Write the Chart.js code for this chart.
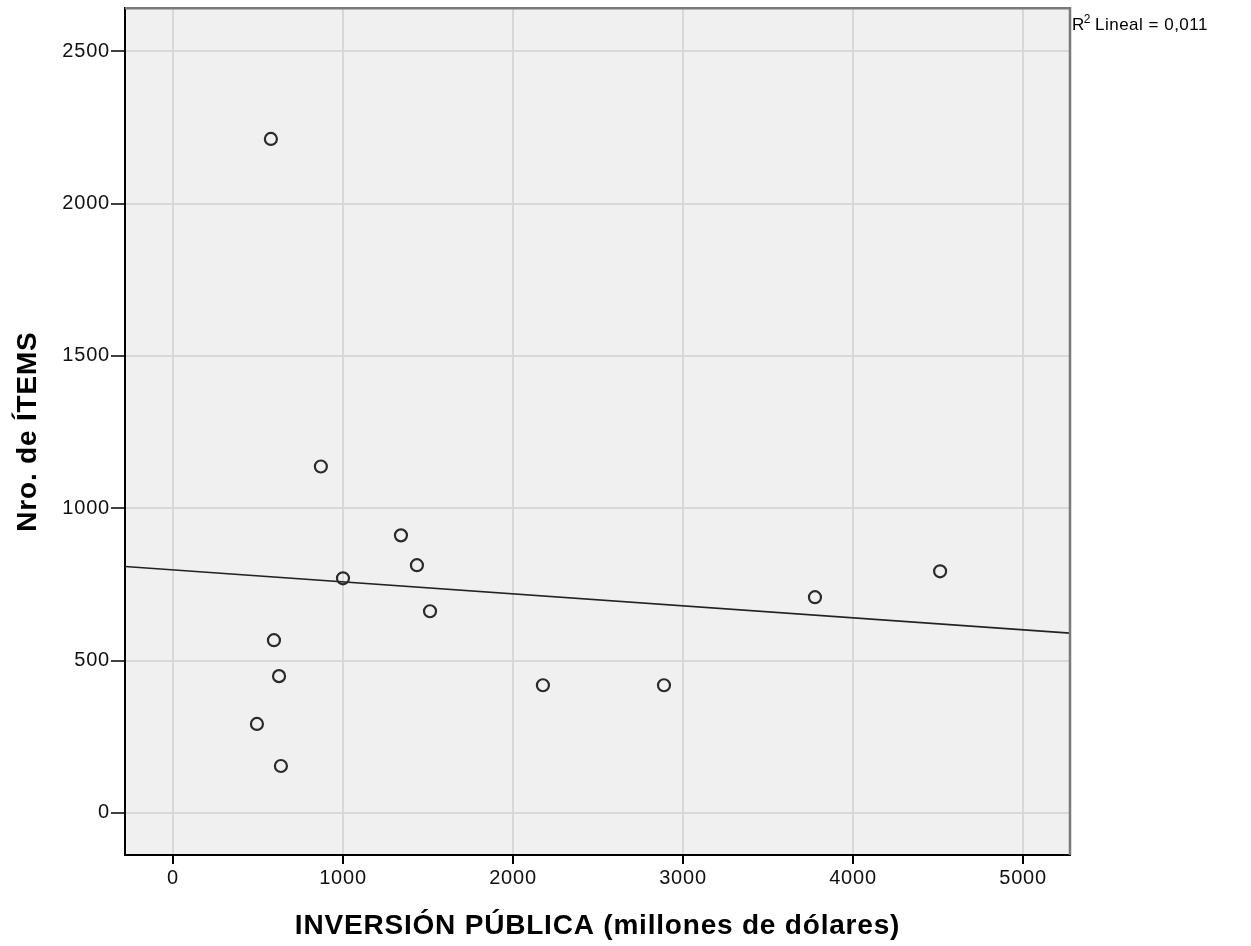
<!DOCTYPE html>
<html>
<head>
<meta charset="utf-8">
<script src="https://cdn.jsdelivr.net/npm/chart.js@4"></script>
<style>
  html, body { margin: 0; padding: 0; background: #fff; }
  #wrap { width: 1251px; height: 946px; }
</style>
</head>
<body>
<div id="wrap"><canvas id="chart" width="1251" height="946"></canvas></div>
<script>
// datos
const inversion = [576, 870, 1341, 1435, 1000, 1512, 594, 624, 494, 635, 2176, 2888, 3776, 4512];
const items = [2212, 1137, 911, 813, 770, 662, 567, 449, 292, 154, 419, 419, 708, 793];
// recta de ajuste (extremos en los bordes del area)
const rectaX = [-282, 5276];
const rectaY = [809, 590];
const xTicks = [0, 1000, 2000, 3000, 4000, 5000];
const yTicks = [0, 500, 1000, 1500, 2000, 2500];
const r2Texto = "0,011";

const FONT = "Arial, 'Liberation Sans', sans-serif";

const puntos = inversion.map((v, i) => ({ x: v, y: items[i] }));
const recta = rectaX.map((v, i) => ({ x: v, y: rectaY[i] }));

// espaciado de letras (el canvas se reinicia, hay que ponerlo en cada paso)
const espaciado = {
    id: 'espaciado',
    beforeLayout(chart) { chart.ctx.letterSpacing = '0.8px'; },
    beforeDraw(chart) { chart.ctx.letterSpacing = '0.8px'; }
};

// fondo gris y bordes del area
const areaPlugin = {
    id: 'areaPlugin',
    beforeDraw(chart) {
        const { ctx, chartArea: a } = chart;
        ctx.save();
        ctx.fillStyle = '#f0f0f0';
        ctx.fillRect(a.left, a.top, a.right - a.left, a.bottom - a.top);
        ctx.restore();
    },
    afterDraw(chart) {
        const { ctx, chartArea: a } = chart;
        ctx.save();
        ctx.strokeStyle = '#7a7a7a';
        ctx.lineWidth = 2.5;
        ctx.beginPath();
        ctx.moveTo(a.left, a.top);
        ctx.lineTo(a.right, a.top);
        ctx.lineTo(a.right, a.bottom);
        ctx.stroke();
        // R2
        ctx.fillStyle = '#000';
        ctx.textAlign = 'left';
        ctx.textBaseline = 'alphabetic';
        ctx.letterSpacing = '0.5px';
        ctx.font = '17px ' + FONT;
        let x = a.right + 2;
        ctx.fillText('R', x, 30);
        x += ctx.measureText('R').width - 1;
        ctx.font = '12px ' + FONT;
        ctx.fillText('2', x, 23);
        x += ctx.measureText('2').width + 4;
        ctx.font = '17px ' + FONT;
        ctx.fillText('Lineal = ' + r2Texto, x, 30);
        ctx.restore();
    }
};

const ctx = document.getElementById('chart').getContext('2d');
new Chart(ctx, {
    data: {
        datasets: [{
            type: 'scatter',
            data: puntos,
            pointRadius: 6,
            pointHoverRadius: 6,
            pointBorderWidth: 2.2,
            borderColor: '#2a2a2a',
            backgroundColor: 'rgba(0,0,0,0)',
            order: 1
        }, {
            type: 'line',
            data: recta,
            borderColor: '#222',
            borderWidth: 1.6,
            pointRadius: 0,
            fill: false,
            order: 2
        }]
    },
    options: {
        responsive: false,
        animation: false,
        layout: { padding: { top: 7, right: 181, left: 0, bottom: 0 } },
        plugins: {
            legend: { display: false },
            tooltip: { enabled: false }
        },
        scales: {
            x: {
                type: 'linear',
                min: -282,
                max: 5276,
                afterBuildTicks(s) { s.ticks = xTicks.map(v => ({ value: v })); },
                afterFit(s) { s.height = 91; s.paddingLeft = 0; s.paddingRight = 0; },
                border: { color: '#000', width: 2 },
                grid: { color: '#d8d8d8', lineWidth: 2, tickColor: '#000', tickLength: 9, tickWidth: 2 },
                ticks: { color: '#111', font: { size: 20, family: FONT }, padding: 2, callback: v => String(v) },
                title: {
                    display: true,
                    text: 'INVERSIÓN PÚBLICA (millones de dólares)',
                    color: '#000',
                    font: { size: 28, weight: 'bold', family: FONT },
                    padding: { top: 0, bottom: 3 }
                }
            },
            y: {
                type: 'linear',
                min: -138,
                max: 2641,
                afterBuildTicks(s) { s.ticks = yTicks.map(v => ({ value: v })); },
                afterFit(s) { s.width = 125; s.paddingTop = 0; s.paddingBottom = 0; },
                border: { color: '#000', width: 2 },
                grid: { color: '#d8d8d8', lineWidth: 2, tickColor: '#000', tickLength: 14, tickWidth: 1.5 },
                ticks: { color: '#111', font: { size: 20, family: FONT }, padding: 1, callback: v => String(v) },
                title: {
                    display: true,
                    text: 'Nro. de ÍTEMS',
                    color: '#000',
                    font: { size: 28, weight: 'bold', family: FONT },
                    padding: { top: 11, bottom: 0 }
                }
            }
        }
    },
    plugins: [espaciado, areaPlugin]
});
</script>
</body>
</html>
